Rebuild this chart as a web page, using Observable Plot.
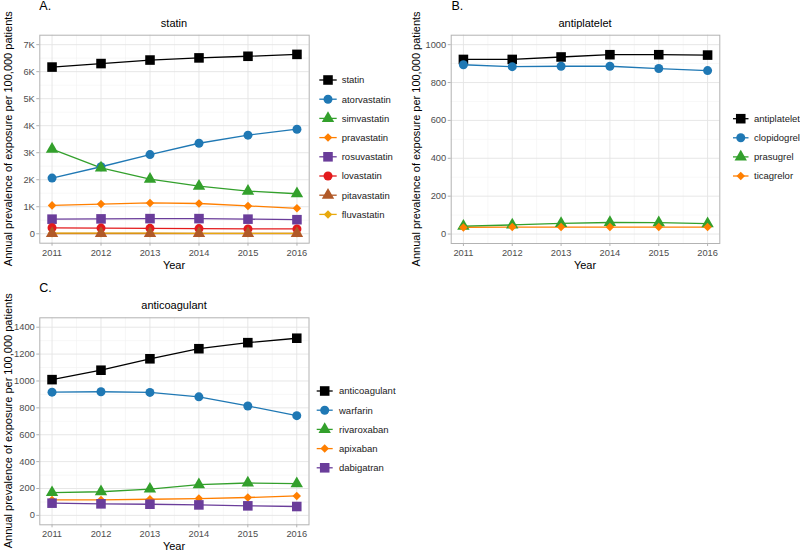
<!DOCTYPE html>
<html><head><meta charset="utf-8">
<script src="https://cdn.jsdelivr.net/npm/d3@7"></script>
<script src="https://cdn.jsdelivr.net/npm/@observablehq/plot@0.6"></script>
<style>
html,body{margin:0;padding:0;background:#fff;}
#root{position:relative;width:800px;height:553px;overflow:hidden;font-family:"Liberation Sans",Arial,sans-serif;}
.panel{position:absolute;}
.panel svg{max-width:none !important;overflow:visible;}
#overlay{position:absolute;left:0;top:0;pointer-events:none;}
</style></head><body><div id="root"></div>
<script>
// ---------- data ----------
const years = [2011, 2012, 2013, 2014, 2015, 2016];

// Panel A: statin
const statinNames = ["statin","atorvastatin","simvastatin","pravastatin","rosuvastatin","lovastatin","pitavastatin","fluvastatin"];
const statin       = [6170, 6300, 6430, 6510, 6570, 6640];
const atorvastatin = [2060, 2480, 2930, 3350, 3650, 3870];
const simvastatin  = [3130, 2440, 2020, 1760, 1580, 1480];
const pravastatin  = [1050, 1100, 1140, 1120, 1030, 940];
const rosuvastatin = [540, 550, 560, 560, 540, 520];
const lovastatin   = [220, 210, 200, 190, 180, 180];
const pitavastatin = [10, 10, 10, 10, 10, 10];
const fluvastatin  = [20, 20, 20, 15, 15, 15];
const statinTicks = [0, 1000, 2000, 3000, 4000, 5000, 6000, 7000];

// Panel B: antiplatelet
const antiplateletNames = ["antiplatelet","clopidogrel","prasugrel","ticagrelor"];
const antiplatelet = [922, 922, 935, 947, 947, 945];
const clopidogrel  = [894, 884, 886, 886, 874, 863];
const prasugrel    = [41, 48, 56, 61, 60, 55];
const ticagrelor   = [35, 37, 37, 37, 37, 37];
const antiplateletTicks = [0, 200, 400, 600, 800, 1000];

// Panel C: anticoagulant
const anticoagulantNames = ["anticoagulant","warfarin","rivaroxaban","apixaban","dabigatran"];
const anticoagulant = [1010, 1080, 1165, 1240, 1285, 1318];
const warfarin      = [917, 920, 915, 882, 814, 742];
const rivaroxaban   = [170, 176, 196, 229, 241, 236];
const apixaban      = [115, 115, 120, 125, 133, 145];
const dabigatran    = [91, 86, 83, 78, 71, 66];
const anticoagulantTicks = [0, 200, 400, 600, 800, 1000, 1200, 1400];

const yTitle = "Annual prevalence of exposure per 100,000 patients";
const xTitle = "Year";

// ---------- styles ----------
const diamond = {draw(ctx, size){ const h = Math.sqrt(size/2); ctx.moveTo(0,-h); ctx.lineTo(h,0); ctx.lineTo(0,h); ctx.lineTo(-h,0); ctx.closePath(); }};
const shapeCycle = ["square", "circle", "triangle", diamond];
const rCycle = [5.4, 4.5, 4.6, 3.4];
const d3Shape = {square: d3.symbolSquare, circle: d3.symbolCircle, triangle: d3.symbolTriangle};

const panels = [
  {names: statinNames, values: [statin, atorvastatin, simvastatin, pravastatin, rosuvastatin, lovastatin, pitavastatin, fluvastatin],
   colors: ["#000000","#1F78B4","#33A02C","#FF7F00","#6A3D9A","#E31A1C","#B15928","#E8A90E"],
   dotOrder: [0,1,2,3,4,5,7,6],
   left: 0, top: 0, w: 400, h: 276, mt: 34.7, mb: 33.3, ml: 39.3, mr: 91.3,
   ydomain: [-350, 7350], yticks: statinTicks, fmt: d => d === 0 ? "0" : (d/1000) + "K",
   letter: "A.", letterXY: [39.3, 5.5], title: "statin", titleXY: [174, 23], yearXY: [174, 265], ylabXY: [8.5, 138.7],
   legX0: 319.3, legX1: 336.7, legTX: 341.7, legY0: 80, legStep: 19.2},
  {names: antiplateletNames, values: [antiplatelet, clopidogrel, prasugrel, ticagrelor],
   colors: ["#000000","#1F78B4","#33A02C","#FF7F00"],
   dotOrder: [0,1,2,3],
   left: 400, top: 0, w: 400, h: 276, mt: 34.7, mb: 33, ml: 50.7, mr: 80.7,
   ydomain: [-50, 1050], yticks: antiplateletTicks, fmt: d => String(d),
   letter: "B.", letterXY: [451.5, 5.5], title: "antiplatelet", titleXY: [585, 23], yearXY: [585, 265], ylabXY: [416.5, 138.9],
   legX0: 733, legX1: 748.5, legTX: 754, legY0: 118.7, legStep: 19.1},
  {names: anticoagulantNames, values: [anticoagulant, warfarin, rivaroxaban, apixaban, dabigatran],
   colors: ["#000000","#1F78B4","#33A02C","#FF7F00","#6A3D9A"],
   dotOrder: [0,1,2,3,4],
   left: 0, top: 276, w: 400, h: 277, mt: 41.3, mb: 28.7, ml: 39.3, mr: 91.5,
   ydomain: [-70, 1470], yticks: anticoagulantTicks, fmt: d => String(d),
   letter: "C.", letterXY: [39.3, 287.5], title: "anticoagulant", titleXY: [174, 305], yearXY: [174, 546], ylabXY: [8.5, 420.8],
   legX0: 316.7, legX1: 332.7, legTX: 339, legY0: 391, legStep: 19.2}
];

const root = document.getElementById("root");
const minorX = years.slice(0, -1).map(y => y + 0.5);

panels.forEach(p => {
  const rows = [];
  p.names.forEach((n, i) => years.forEach((yr, j) => rows.push({series: n, year: yr, value: p.values[i][j]})));
  const step = p.yticks[1] - p.yticks[0];
  const yminor = p.yticks.slice(0, -1).map(t => t + step / 2);
  const marks = [
    Plot.gridX({ticks: minorX, stroke: "#f2f2f2", strokeOpacity: 1, strokeWidth: 0.6}),
    Plot.gridY({ticks: yminor, stroke: "#f2f2f2", strokeOpacity: 1, strokeWidth: 0.6}),
    Plot.gridX({ticks: years, stroke: "#e4e4e4", strokeOpacity: 1, strokeWidth: 0.9}),
    Plot.gridY({ticks: p.yticks, stroke: "#e4e4e4", strokeOpacity: 1, strokeWidth: 0.9}),
    Plot.axisX({ticks: years, tickFormat: d => String(d), tickSize: 3, tickPadding: 3, stroke: "#b3b3b3", fill: "#4d4d4d", label: null}),
    Plot.axisY({ticks: p.yticks, tickFormat: p.fmt, tickSize: 3, tickPadding: 2, stroke: "#b3b3b3", fill: "#4d4d4d", label: null})
  ];
  p.names.forEach((n, i) => {
    marks.push(Plot.line(rows.filter(d => d.series === n), {x: "year", y: "value", stroke: p.colors[i], strokeWidth: 1.3}));
  });
  p.dotOrder.forEach(i => {
    const n = p.names[i];
    marks.push(Plot.dot(rows.filter(d => d.series === n), {x: "year", y: "value", fill: p.colors[i], stroke: "none", symbol: shapeCycle[i % 4], r: rCycle[i % 4]}));
  });
  marks.push(Plot.frame({stroke: "#b3b3b3", strokeWidth: 1}));
  const chart = Plot.plot({
    width: p.w, height: p.h,
    marginTop: p.mt, marginBottom: p.mb, marginLeft: p.ml, marginRight: p.mr,
    x: {domain: [2010.75, 2016.25]},
    y: {domain: p.ydomain},
    style: {fontFamily: '"Liberation Sans", Arial, sans-serif', fontSize: "9.3px", background: "transparent", overflow: "visible"},
    marks
  });
  const div = document.createElement("div");
  div.className = "panel";
  div.style.left = p.left + "px";
  div.style.top = p.top + "px";
  div.style.width = p.w + "px";
  div.style.height = p.h + "px";
  div.appendChild(chart);
  root.appendChild(div);
});

// ---------- overlay: titles, axis titles, legends ----------
const ov = d3.select(root).append("svg").attr("id", "overlay").attr("width", 800).attr("height", 553)
  .style("font-family", '"Liberation Sans", Arial, sans-serif');

panels.forEach(p => {
  ov.append("text").attr("x", p.letterXY[0]).attr("y", p.letterXY[1]).attr("dy", "0.36em")
    .attr("font-size", 12.5).attr("fill", "#000").text(p.letter);
  ov.append("text").attr("x", p.titleXY[0]).attr("y", p.titleXY[1]).attr("dy", "0.36em")
    .attr("text-anchor", "middle").attr("font-size", 11).attr("fill", "#000").text(p.title);
  ov.append("text").attr("x", p.yearXY[0]).attr("y", p.yearXY[1]).attr("dy", "0.36em")
    .attr("text-anchor", "middle").attr("font-size", 11).attr("fill", "#000").text(xTitle);
  ov.append("text").attr("transform", `translate(${p.ylabXY[0]},${p.ylabXY[1]}) rotate(-90)`).attr("dy", "0.36em")
    .attr("text-anchor", "middle").attr("font-size", 11).attr("fill", "#000").text(yTitle);

  p.names.forEach((n, i) => {
    const y = p.legY0 + i * p.legStep;
    const g = ov.append("g");
    g.append("line").attr("x1", p.legX0).attr("x2", p.legX1).attr("y1", y).attr("y2", y)
      .attr("stroke", p.colors[i]).attr("stroke-width", 1.3);
    const shp = shapeCycle[i % 4];
    const r = rCycle[i % 4];
    const cx = (p.legX0 + p.legX1) / 2;
    if (shp === "circle") {
      g.append("circle").attr("cx", cx).attr("cy", y).attr("r", r).attr("fill", p.colors[i]);
    } else {
      const sym = typeof shp === "string" ? d3Shape[shp] : shp;
      g.append("path").attr("d", d3.symbol(sym, r * r * Math.PI)()).attr("transform", `translate(${cx},${y})`).attr("fill", p.colors[i]);
    }
    g.append("text").attr("x", p.legTX).attr("y", y).attr("dy", "0.35em").attr("font-size", 9.5).attr("fill", "#1a1a1a").text(n);
  });
});
</script>
</body></html>
